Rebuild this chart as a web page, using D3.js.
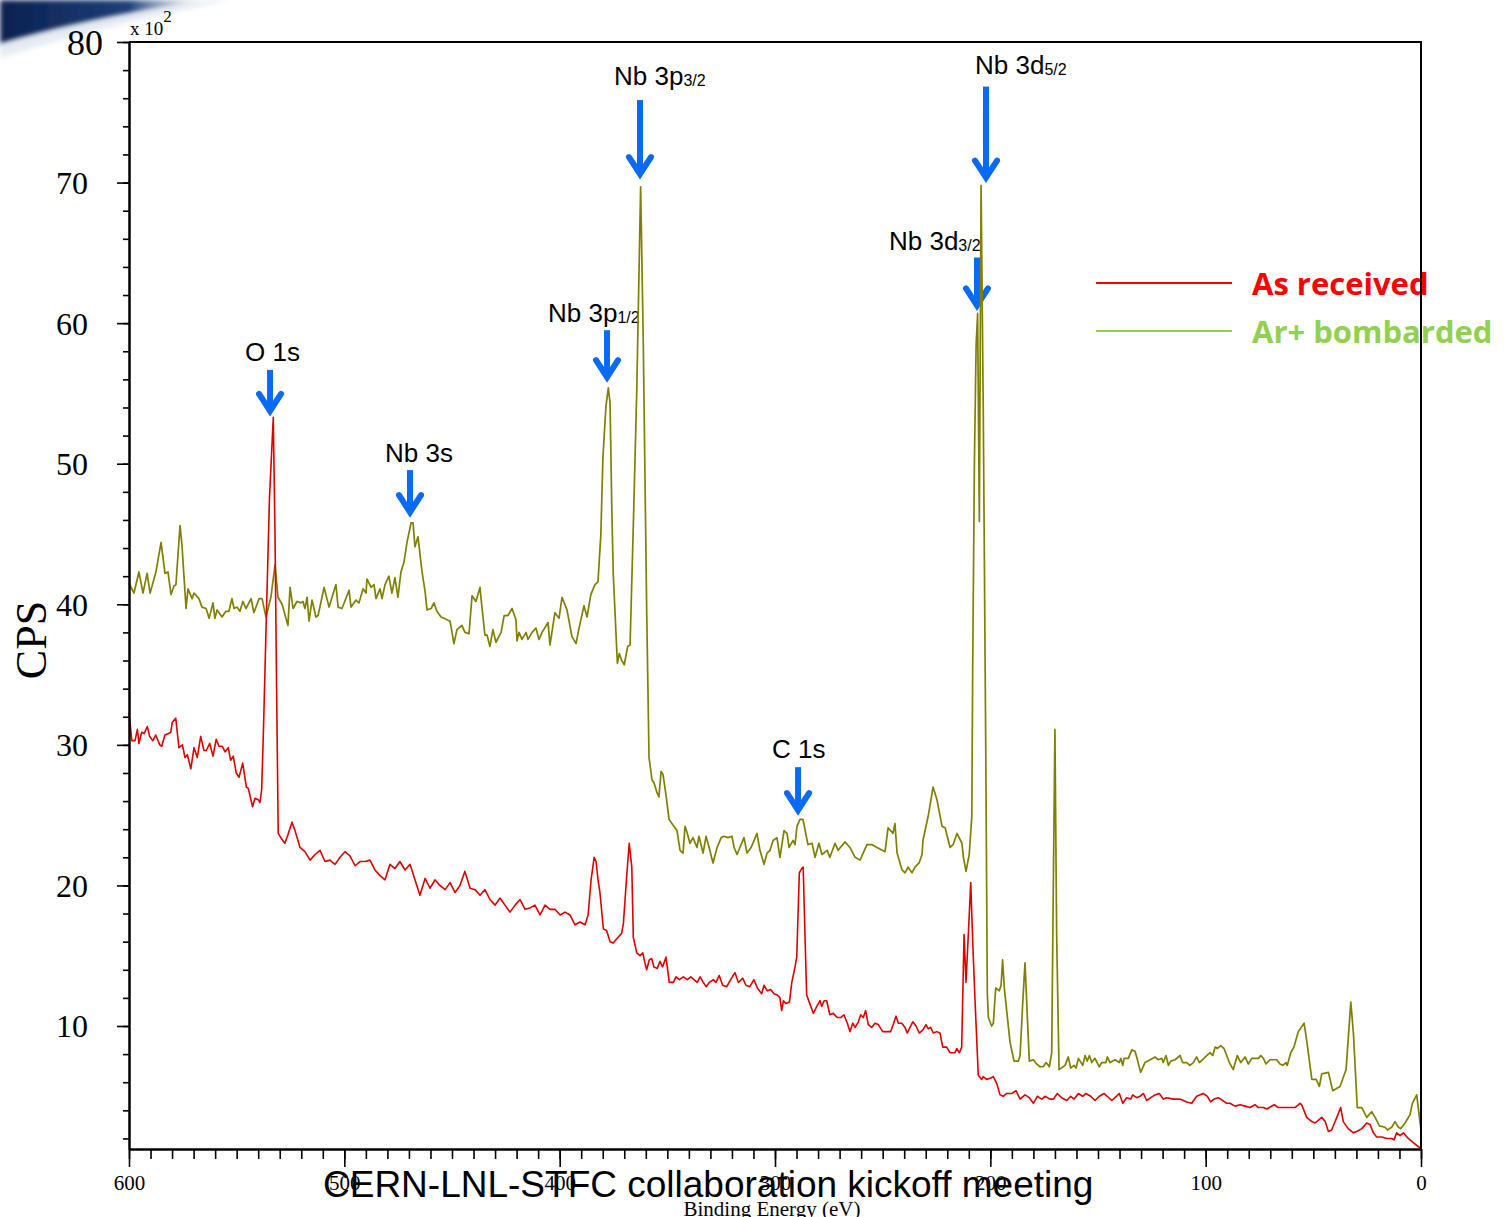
<!DOCTYPE html>
<html>
<head>
<meta charset="utf-8">
<script src="https://cdn.jsdelivr.net/npm/d3@7"></script>
<style>
  html, body { margin: 0; padding: 0; background: #ffffff; }
  svg { display: block; }
</style>
</head>
<body>
<svg id="chart" width="1508" height="1217"></svg>
<script>
// XPS survey spectra, binding energy (eV) vs counts per second (x 10^2)
const receivedSpectrum = [
  [600.0,32.3],[598.7,30.3],[597.2,30.3],[596.1,31.1],[595.4,30.1],[594.1,30.9],[593.0,30.8],[591.5,31.3],
  [590.4,30.6],[588.9,30.3],[587.6,30.7],[585.7,30.0],[584.8,29.9],[583.3,30.7],[581.7,30.8],[580.6,30.9],
  [579.9,31.6],[578.3,31.9],[576.8,29.8],[575.2,30.0],[574.0,29.1],[572.9,29.3],[571.3,28.3],[569.8,29.8],
  [568.3,29.1],[566.7,30.6],[565.2,29.6],[564.1,29.6],[562.5,30.1],[561.0,29.2],[559.5,30.4],[558.2,29.9],
  [556.7,29.9],[555.4,29.5],[553.9,29.8],[552.8,28.9],[551.6,29.2],[550.2,28.0],[548.9,27.7],[547.2,28.7],
  [545.5,27.0],[544.6,26.9],[542.6,25.6],[541.5,26.2],[540.0,26.1],[539.2,25.9],[538.4,26.8],[537.6,30.8],
  [536.4,38.0],[534.8,47.4],[533.0,53.3],[532.2,45.1],[531.4,33.2],[530.7,23.7],[529.1,23.3],[527.6,23.0],
  [526.2,23.6],[524.3,24.5],[522.9,23.9],[520.6,22.7],[518.3,22.4],[515.9,21.8],[513.6,22.2],[511.3,22.5],
  [509.0,21.7],[506.7,21.8],[504.3,21.5],[502.0,22.0],[499.7,22.4],[497.4,22.1],[495.0,21.4],[492.7,21.7],
  [490.4,21.7],[488.1,21.8],[485.8,21.1],[483.4,20.7],[481.1,20.4],[478.8,21.5],[476.5,21.2],[474.2,21.7],
  [471.8,21.1],[469.5,21.5],[467.2,20.4],[464.9,19.3],[462.5,20.5],[460.2,19.8],[457.9,20.4],[455.6,20.0],
  [453.2,19.7],[450.9,20.2],[448.6,19.5],[446.3,20.0],[444.0,21.0],[441.6,19.8],[439.3,19.7],[437.0,19.3],
  [434.7,19.7],[432.4,19.0],[430.0,18.6],[427.7,19.1],[425.4,18.6],[423.1,18.1],[420.7,18.6],[418.4,19.0],
  [416.1,18.3],[413.8,18.4],[411.5,18.6],[409.1,17.9],[406.8,18.6],[404.5,18.3],[402.2,18.3],[399.8,17.9],
  [397.5,18.1],[395.2,17.9],[392.9,17.2],[390.6,17.4],[388.2,17.2],[386.8,17.9],[385.4,20.4],[384.0,22.0],
  [383.1,21.7],[382.2,20.4],[381.3,19.5],[379.7,16.9],[378.2,16.8],[376.6,16.0],[375.1,15.9],[373.5,16.2],
  [371.2,16.6],[370.4,17.3],[368.9,20.6],[367.7,23.0],[366.5,21.3],[365.8,16.3],[364.2,15.2],[362.7,15.0],
  [361.4,15.2],[360.4,14.5],[359.6,14.0],[358.4,14.7],[357.3,14.8],[356.2,14.2],[354.7,14.1],[353.4,14.6],
  [352.2,14.2],[350.6,14.9],[349.1,13.1],[347.2,13.1],[346.0,13.5],[344.4,13.3],[342.6,13.5],[340.7,13.3],
  [339.1,13.5],[336.1,13.1],[334.8,13.5],[333.3,13.1],[332.0,12.8],[330.5,13.1],[328.6,13.3],[327.4,13.1],
  [325.9,13.6],[324.3,12.9],[322.4,12.8],[320.6,13.3],[318.6,13.8],[317.0,13.1],[315.0,13.4],[313.5,12.9],
  [311.7,12.8],[309.8,13.3],[308.2,12.7],[306.2,12.3],[305.1,12.9],[303.6,12.5],[302.0,12.6],[300.5,12.3],
  [298.9,12.2],[297.7,12.0],[296.9,11.1],[296.1,11.8],[294.9,11.6],[293.3,11.7],[292.2,13.1],[290.7,14.2],
  [289.9,14.9],[288.7,20.9],[287.6,21.2],[286.9,21.3],[286.1,16.6],[285.3,12.2],[284.1,11.7],[282.2,10.9],
  [280.6,11.4],[279.1,11.8],[278.3,11.4],[277.2,11.8],[276.0,11.8],[274.5,10.8],[272.9,10.9],[271.1,10.6],
  [269.5,10.6],[268.0,10.8],[266.4,10.2],[265.2,9.6],[263.9,10.2],[262.8,9.9],[261.3,10.3],[260.2,10.8],
  [259.0,10.6],[257.9,11.1],[256.7,10.1],[255.1,9.9],[253.6,10.2],[252.0,10.1],[250.0,9.6],[247.8,9.6],
  [246.3,9.6],[245.1,10.1],[243.8,10.7],[242.7,10.2],[241.1,10.2],[239.6,9.9],[238.6,9.5],[237.3,9.9],
  [236.0,10.3],[234.5,10.0],[233.0,9.5],[231.4,9.7],[229.9,10.1],[228.8,9.8],[227.7,9.9],[226.5,9.5],
  [224.9,9.6],[223.4,9.5],[222.1,8.5],[220.3,8.5],[218.7,8.1],[216.4,8.1],[215.6,8.4],[214.4,8.1],
  [213.3,8.5],[212.2,16.5],[211.3,13.1],[210.2,16.6],[209.1,20.2],[208.2,16.1],[207.1,11.8],[205.6,6.5],
  [204.0,6.2],[203.3,6.4],[201.7,6.2],[199.8,6.3],[198.6,6.4],[197.0,5.9],[195.5,5.1],[194.0,5.0],
  [192.4,5.2],[190.1,5.2],[188.1,5.4],[186.2,4.8],[183.9,5.1],[181.9,4.9],[180.0,4.5],[178.2,5.0],
  [176.1,4.8],[174.6,5.0],[172.3,4.8],[170.7,4.8],[168.9,5.2],[166.9,4.9],[164.5,4.7],[162.7,5.0],
  [161.1,4.8],[159.1,5.2],[157.1,5.0],[155.6,5.2],[153.4,5.0],[151.4,4.7],[149.4,5.0],[147.2,5.2],
  [145.7,5.0],[143.6,4.7],[142.1,4.9],[140.1,5.2],[138.5,4.5],[136.7,4.9],[134.8,4.8],[133.9,5.1],
  [132.0,4.9],[130.5,5.0],[128.9,5.2],[127.4,4.7],[125.5,4.9],[123.5,5.1],[121.5,5.2],[119.7,4.8],
  [118.1,4.9],[115.0,4.8],[111.9,4.8],[108.8,4.6],[106.5,4.5],[104.2,5.0],[101.1,5.2],[99.2,5.0],
  [97.7,4.6],[96.1,4.8],[94.1,4.9],[92.1,4.7],[90.2,4.5],[88.7,4.5],[86.4,4.3],[84.0,4.4],
  [81.7,4.3],[79.4,4.2],[77.1,4.4],[75.5,4.2],[73.2,4.2],[71.6,4.1],[68.2,4.4],[66.3,4.2],
  [63.9,4.2],[61.6,4.2],[58.5,4.2],[56.2,4.5],[55.4,4.4],[53.1,3.5],[50.7,3.2],[49.2,3.1],
  [46.1,3.5],[44.5,3.2],[43.0,2.5],[41.5,2.6],[39.1,3.5],[37.3,4.2],[36.1,3.2],[33.8,2.7],
  [31.4,2.4],[29.9,2.5],[27.5,2.7],[25.2,3.1],[23.7,3.0],[22.1,2.4],[20.6,2.1],[18.2,2.1],
  [15.9,2.0],[13.6,2.0],[12.5,1.9],[11.3,2.4],[9.7,2.2],[8.2,2.4],[5.9,2.0],[3.6,1.7],
  [2.0,1.5],[0.0,1.3]
];

const bombardedSpectrum = [
  [600.0,41.5],[597.7,40.8],[595.4,42.3],[593.5,40.8],[591.6,42.2],[590.2,40.8],[587.5,42.3],[585.1,44.4],
  [583.3,42.2],[581.9,42.3],[580.5,40.7],[579.1,41.3],[578.2,41.4],[576.3,45.6],[575.4,44.2],[573.5,39.7],
  [572.6,41.1],[570.7,40.4],[569.8,40.8],[567.5,40.4],[566.1,39.8],[564.2,39.7],[562.8,39.0],[561.0,40.1],
  [560.1,39.0],[559.1,39.6],[556.8,39.1],[555.0,39.5],[553.6,39.5],[552.2,40.4],[551.2,39.7],[549.8,39.8],
  [548.5,39.5],[547.1,40.2],[545.7,39.7],[543.3,40.4],[542.0,39.4],[539.6,40.4],[538.2,40.4],[536.4,39.1],
  [534.1,40.5],[532.2,42.8],[530.8,40.5],[528.9,40.0],[526.2,38.5],[525.2,41.2],[523.8,39.7],[522.0,40.2],
  [520.1,40.1],[519.2,40.2],[518.3,39.7],[517.3,40.5],[516.4,38.8],[515.0,40.3],[513.2,39.1],[512.2,39.2],
  [509.4,41.2],[507.1,39.8],[503.9,41.4],[502.9,39.8],[501.1,39.7],[497.8,41.0],[496.9,39.8],[494.6,40.3],
  [493.2,40.1],[491.3,41.1],[489.9,40.8],[489.5,41.8],[487.6,41.2],[486.2,41.4],[485.3,40.4],[483.4,41.1],
  [482.5,40.4],[481.1,41.4],[479.3,42.0],[477.9,40.8],[476.5,41.9],[475.1,40.5],[473.7,42.3],[472.3,43.0],
  [470.9,44.4],[469.0,45.8],[468.1,45.8],[467.2,44.1],[465.8,44.8],[463.9,42.3],[462.5,40.9],[461.6,39.6],
  [459.7,39.7],[458.4,40.1],[457.0,39.5],[455.1,39.1],[453.7,39.0],[450.9,38.8],[449.1,37.2],[447.7,38.2],
  [445.4,38.5],[444.0,38.0],[442.1,37.9],[440.7,40.6],[438.9,40.2],[437.0,41.2],[436.1,39.8],[434.7,37.8],
  [433.7,37.8],[432.4,37.0],[431.0,38.2],[429.6,37.3],[427.2,38.0],[425.8,39.2],[424.0,39.2],[422.1,39.7],
  [420.3,38.9],[419.8,37.4],[418.9,38.0],[417.5,37.5],[415.6,38.0],[414.7,37.5],[412.8,38.0],[411.0,38.3],
  [409.6,37.5],[408.2,38.0],[405.4,38.7],[404.5,37.1],[402.2,39.4],[400.3,39.0],[398.9,40.5],[396.6,39.6],
  [394.3,37.7],[392.4,37.2],[391.0,38.3],[388.7,39.9],[387.3,39.1],[385.5,40.7],[383.6,41.4],[382.2,41.6],
  [380.9,44.9],[379.9,50.5],[378.5,54.1],[377.4,55.4],[376.6,54.3],[375.8,46.9],[375.1,42.1],[373.2,35.8],
  [372.3,36.5],[371.2,36.0],[370.0,35.7],[368.4,37.0],[367.3,37.1],[365.8,45.6],[364.2,55.2],[362.4,69.7],
  [361.2,58.9],[359.6,39.7],[358.5,29.1],[357.1,27.5],[356.2,27.3],[354.8,26.6],[353.9,26.3],[352.9,28.1],
  [352.0,27.9],[350.6,26.4],[349.2,24.7],[347.4,24.3],[345.5,23.9],[344.1,22.5],[342.7,22.3],[341.8,24.2],
  [340.9,23.8],[339.5,23.0],[338.1,23.4],[336.2,22.7],[335.3,23.5],[333.4,22.3],[332.0,23.5],[330.6,22.7],
  [328.8,21.6],[326.9,22.7],[325.0,23.4],[323.7,23.5],[321.8,23.4],[320.0,23.5],[319.0,22.7],[317.6,22.2],
  [316.3,22.7],[314.4,23.4],[313.0,22.3],[311.1,22.7],[309.7,23.2],[308.4,23.7],[307.0,22.5],[305.1,21.5],
  [303.7,22.3],[302.3,22.5],[300.9,23.2],[299.1,23.4],[297.7,22.0],[295.8,23.9],[294.4,23.7],[293.5,22.7],
  [291.6,23.2],[290.7,22.9],[289.8,24.2],[288.4,24.7],[287.0,24.7],[285.6,23.6],[284.7,22.9],[282.8,23.0],
  [281.4,22.0],[279.6,23.0],[278.2,22.2],[275.8,22.5],[274.5,22.0],[272.1,23.0],[270.7,22.5],[267.5,23.1],
  [265.2,22.7],[262.8,22.0],[260.5,21.8],[257.3,22.9],[254.9,22.9],[252.6,22.7],[248.9,22.4],[247.5,24.1],
  [245.2,23.7],[244.3,24.4],[243.3,22.3],[241.0,21.1],[239.6,20.9],[238.2,21.3],[236.4,20.9],[235.0,21.3],
  [233.1,21.6],[231.7,22.2],[231.3,23.2],[228.9,24.9],[226.6,27.0],[224.8,26.1],[222.4,24.2],[221.0,24.1],
  [218.7,22.7],[217.3,22.9],[215.5,23.7],[213.2,23.0],[212.5,22.0],[211.3,21.0],[209.8,22.2],[208.6,24.9],
  [208.2,35.3],[207.4,50.0],[206.6,58.4],[205.9,60.7],[205.1,45.9],[204.3,69.8],[203.3,54.2],[202.1,29.1],
  [201.4,12.3],[200.9,10.6],[199.4,10.0],[198.6,10.2],[197.5,12.7],[195.8,12.5],[195.0,12.9],[194.3,14.7],
  [193.5,12.7],[190.9,8.9],[189.0,7.5],[187.0,7.5],[186.2,7.9],[185.0,11.5],[183.9,14.5],[182.8,10.6],
  [181.9,7.5],[180.0,7.6],[178.5,7.3],[176.9,7.1],[175.4,7.1],[174.1,7.4],[172.6,7.1],[171.5,8.1],
  [170.7,20.7],[170.0,31.1],[169.2,16.5],[168.1,6.9],[165.3,7.2],[163.8,7.8],[162.7,7.0],[161.1,7.2],
  [160.2,7.0],[159.1,7.7],[157.1,7.2],[156.0,7.9],[155.0,7.5],[154.0,7.9],[152.9,7.4],[151.4,7.7],
  [149.4,7.1],[148.3,7.4],[146.3,7.4],[145.7,7.8],[144.4,7.4],[142.1,7.6],[140.1,7.4],[139.4,7.7],
  [138.5,7.2],[137.9,7.7],[135.9,7.7],[134.3,8.3],[132.8,8.2],[131.7,7.6],[130.2,6.7],[128.2,7.4],
  [125.8,7.6],[123.5,7.8],[122.0,7.6],[120.4,7.7],[119.7,7.4],[118.4,7.9],[117.3,7.2],[116.2,7.5],
  [114.2,7.6],[111.9,7.9],[110.7,7.4],[108.8,7.4],[107.3,7.2],[105.7,7.4],[104.2,7.8],[102.9,7.4],
  [99.5,7.9],[98.0,8.1],[96.7,7.9],[95.6,8.5],[94.6,8.4],[93.0,8.6],[91.5,8.4],[90.2,7.9],
  [89.0,7.4],[87.2,6.9],[85.3,7.9],[83.7,7.4],[81.7,7.8],[80.2,7.3],[78.6,7.7],[75.5,7.7],
  [74.4,7.9],[73.2,7.7],[72.0,7.3],[70.1,7.6],[67.0,7.6],[65.5,7.3],[64.2,7.2],[62.7,7.4],
  [62.1,7.2],[60.5,8.1],[59.0,8.5],[57.0,9.6],[54.3,10.2],[53.1,9.0],[50.7,6.2],[48.7,6.2],
  [47.2,5.7],[46.1,6.6],[43.0,6.7],[41.0,5.4],[37.6,5.7],[34.8,6.9],[32.6,11.7],[31.4,9.5],
  [29.6,4.2],[27.5,4.2],[25.2,3.5],[22.9,3.9],[21.3,3.5],[19.3,2.9],[16.7,2.8],[15.6,2.6],
  [13.6,2.8],[12.1,3.2],[10.5,2.8],[9.4,2.7],[7.4,3.1],[5.1,3.7],[4.0,4.5],[2.0,5.1],
  [0.0,2.6]
];

const seriesNames = ["As received", "Ar+ bombarded"];
const xMajorTicks = [600, 500, 400, 300, 200, 100, 0];
const yMajorTicks = [10, 20, 30, 40, 50, 60, 70, 80];

// Peak assignments: label, subscript, binding energy of the arrow, CPS at the arrow tip
const peakLabels     = ["O 1s", "Nb 3s", "Nb 3p", "Nb 3p", "Nb 3d", "Nb 3d", "C 1s"];
const peakSubscripts = ["", "", "1/2", "3/2", "5/2", "3/2", ""];
const peakEnergies   = [534.5, 469.5, 378.0, 362.7, 202.0, 206.2, 289.3];
const peakArrowTips  = [53.4, 46.2, 55.8, 70.25, 70.0, 60.9, 25.0];

// ---- layout ----
const svg = d3.select("#chart");
const W = 1508, H = 1217;
const plot = { left: 129, right: 1421, top: 42, bottom: 1149 };

const x = d3.scaleLinear().domain([600, 0]).range([plot.left, plot.right]);
const y = d3.scaleLinear().domain([1.25, 80]).range([plot.bottom, plot.top]);

const serif = "'Liberation Serif', 'Times New Roman', Times, serif";
const sans = "'Liberation Sans', Arial, Helvetica, sans-serif";
const colors = { received: "#e00000", bombarded: "#808000", arrow: "#0a6af5",
                 legendReceived: "#ff0000", legendBombarded: "#92d050" };

svg.append("rect").attr("width", W).attr("height", H).attr("fill", "#ffffff");

// slide decoration in the top-left corner
const defs = svg.append("defs");
const grad = defs.append("linearGradient").attr("id", "swoosh")
  .attr("x1", "0").attr("y1", "0").attr("x2", "1").attr("y2", "0");
grad.append("stop").attr("offset", "0").attr("stop-color", "#0b2150");
grad.append("stop").attr("offset", "0.6").attr("stop-color", "#1d3f78");
grad.append("stop").attr("offset", "1").attr("stop-color", "#b8c7dc").attr("stop-opacity", 0);
defs.append("filter").attr("id", "soft").append("feGaussianBlur").attr("stdDeviation", 2.5);
svg.append("path")
  .attr("d", "M0,0 L215,0 C170,6 90,18 0,44 Z")
  .attr("fill", "url(#swoosh)").attr("filter", "url(#soft)");
svg.append("path")
  .attr("d", "M0,44 C90,18 170,6 215,0 L230,0 C170,12 90,30 0,58 Z")
  .attr("fill", "#cfd8e6").attr("opacity", 0.5).attr("filter", "url(#soft)");

// ---- peak arrows ----
const arrowShaft = [46, 47, 52, 79, 96, 53, 48];
const labelDx    = [-25, -25, -59, -26, -11, -88, -26];
const labelDy    = [-9, -8, -8, -15, -13, -7, -9];

const ann = svg.append("g").attr("class", "annotations");
peakLabels.forEach((lab, i) => {
  const ax = x(peakEnergies[i]);
  const tip = y(peakArrowTips[i]);
  const top = tip - arrowShaft[i];
  const g = ann.append("g");
  g.append("line")
    .attr("x1", ax).attr("x2", ax).attr("y1", top).attr("y2", tip - 6)
    .attr("stroke", colors.arrow).attr("stroke-width", 6);
  g.append("polyline")
    .attr("points", `${ax - 11},${tip - 22} ${ax},${tip - 5} ${ax + 11},${tip - 22}`)
    .attr("fill", "none").attr("stroke", colors.arrow).attr("stroke-width", 6)
    .attr("stroke-linejoin", "miter").attr("stroke-linecap", "round");
  const t = g.append("text")
    .attr("x", ax + labelDx[i]).attr("y", top + labelDy[i])
    .attr("font-family", sans).attr("font-size", 26).attr("fill", "#000");
  t.append("tspan").text(lab);
  if (peakSubscripts[i]) {
    t.append("tspan").attr("font-size", 16).attr("dy", 1).text(peakSubscripts[i]);
  }
});

// ---- spectra ----
const line = d3.line().x(d => x(d[0])).y(d => y(d[1]));
svg.append("path").datum(bombardedSpectrum)
  .attr("d", line).attr("fill", "none")
  .attr("stroke", colors.bombarded).attr("stroke-width", 1.7).attr("stroke-linejoin", "round");
svg.append("path").datum(receivedSpectrum)
  .attr("d", line).attr("fill", "none")
  .attr("stroke", colors.received).attr("stroke-width", 1.6).attr("stroke-linejoin", "round");

// ---- legend ----
const legend = svg.append("g").attr("class", "legend");
const legendColors = [colors.legendReceived, colors.legendBombarded];
const legendRows = [283, 331];
seriesNames.forEach((name, i) => {
  legend.append("line")
    .attr("x1", 1096).attr("x2", 1232).attr("y1", legendRows[i]).attr("y2", legendRows[i])
    .attr("stroke", legendColors[i]).attr("stroke-width", 2);
  legend.append("text")
    .attr("x", 1252).attr("y", legendRows[i] + 12)
    .attr("font-family", "'Open Sans', Lato, sans-serif").attr("font-weight", 700)
    .attr("font-size", 31).attr("fill", legendColors[i]).text(name);
});

// ---- axes ----
const axisColor = "#000";
const yMinor = svg.append("g").attr("transform", `translate(${plot.left},0)`)
  .call(d3.axisLeft(y).tickValues(d3.range(2, 81, 2)).tickSize(6).tickSizeOuter(0).tickFormat(""));
const yMajor = svg.append("g").attr("transform", `translate(${plot.left},0)`)
  .call(d3.axisLeft(y).tickValues(yMajorTicks).tickSize(12).tickSizeOuter(0).tickPadding(29));
yMajor.selectAll("text")
  .attr("font-family", serif).attr("font-size", 32).attr("fill", "#000").attr("dy", "0.34em");
yMajor.selectAll(".tick").filter(d => d === 80).select("text")
  .attr("font-size", 36).attr("x", -26).attr("dy", "0.36em");

const xMinor = svg.append("g").attr("transform", `translate(0,${plot.bottom})`)
  .call(d3.axisBottom(x).tickValues(d3.range(0, 601, 10)).tickSize(10).tickSizeOuter(0).tickFormat(""));
const xMajor = svg.append("g").attr("transform", `translate(0,${plot.bottom})`)
  .call(d3.axisBottom(x).tickValues(xMajorTicks).tickSize(18).tickSizeOuter(0).tickPadding(8));
xMajor.selectAll("text")
  .attr("font-family", serif).attr("font-size", 21).attr("fill", "#000");

[yMinor, yMajor, xMinor, xMajor].forEach(g => {
  g.selectAll("path.domain").attr("stroke", axisColor).attr("stroke-width", 2);
  g.selectAll(".tick line").attr("stroke", axisColor).attr("stroke-width", 1.6);
});

// frame (top and right edges)
svg.append("path")
  .attr("d", `M${plot.left},${plot.top} H${plot.right} V${plot.bottom}`)
  .attr("fill", "none").attr("stroke", axisColor).attr("stroke-width", 2);

// scale factor note
const mult = svg.append("text").attr("x", 130).attr("y", 35)
  .attr("font-family", serif).attr("font-size", 19).attr("fill", "#000");
mult.append("tspan").text("x 10");
mult.append("tspan").attr("font-size", 17).attr("dy", -13).text("2");

// axis titles
svg.append("text")
  .attr("transform", "translate(46,640) rotate(-90)")
  .attr("text-anchor", "middle")
  .attr("font-family", serif).attr("font-size", 44).attr("fill", "#000")
  .text("CPS");
svg.append("text")
  .attr("x", 772).attr("y", 1216).attr("text-anchor", "middle")
  .attr("font-family", serif).attr("font-size", 21).attr("fill", "#000")
  .text("Binding Energy (eV)");

// footer line of the slide
svg.append("text")
  .attr("x", 323).attr("y", 1197)
  .attr("font-family", sans).attr("font-size", 37).attr("fill", "#000")
  .text("CERN-LNL-STFC collaboration kickoff meeting");
</script>
</body>
</html>
